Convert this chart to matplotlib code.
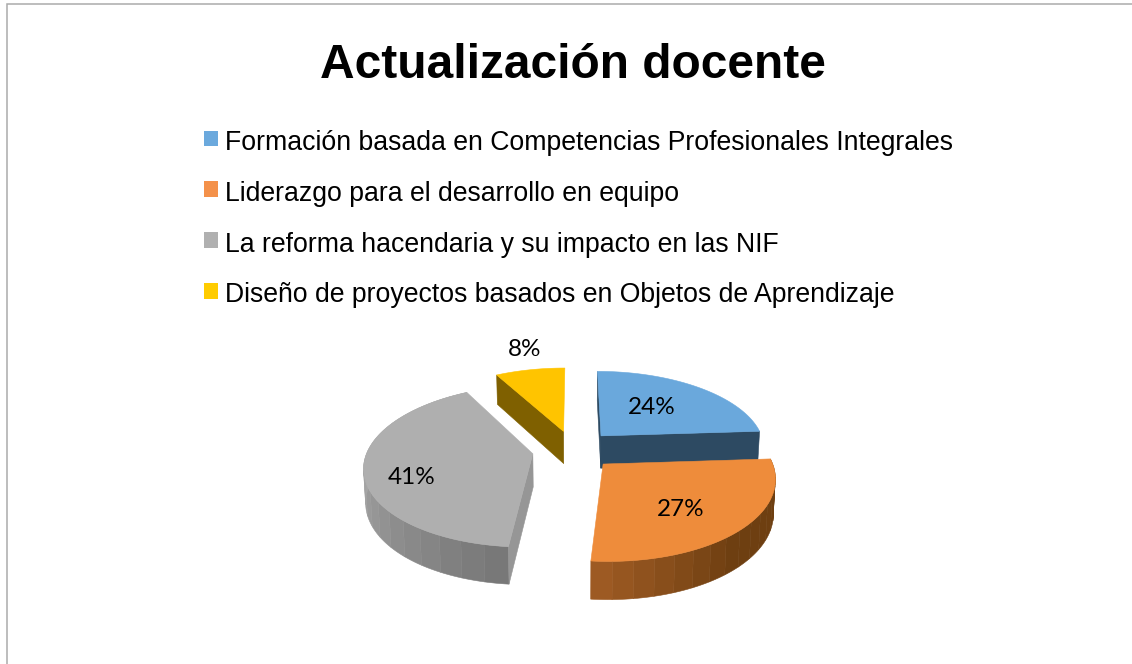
import numpy as np
import matplotlib
matplotlib.use("Agg")
import matplotlib.pyplot as plt
from matplotlib.patches import Polygon, Patch, Rectangle
from matplotlib.legend_handler import HandlerPatch
from matplotlib.colors import to_rgb

TITLE = "Actualización docente"
categories = ["Formación basada en Competencias Profesionales Integrales",
              "Liderazgo para el desarrollo en equipo",
              "La reforma hacendaria y su impacto en las NIF",
              "Diseño de proyectos basados en Objetos de Aprendizaje"]
values = [24, 27.4, 40.6, 8]

top_colors = ["#6aa8dc", "#ee8c3b", "#afafaf", "#ffc400"]
legend_colors = ["#6ba9dd", "#f4914a", "#b0b0b0", "#ffcc00"]
label_pos = [(652, 407), (681, 510), (412, 477), (525, 349)]

CX, CY, RX, RY, K, E, DEPTH = 573.5, 449.7, 165.0, 78.0, 0.15, 0.25, 33.0

fig = plt.figure(figsize=(11.32, 6.64), dpi=100, facecolor="white")
ax = fig.add_axes([0, 0, 1, 1])
ax.set_xlim(0, 1132)
ax.set_ylim(664, 0)
ax.axis("off")


def project(X, Y, bottom=False):
    X, Y = np.asarray(X, float), np.asarray(Y, float)
    d = 1 + K * Y
    x = CX + RX * X / d
    y = CY - RY * Y / d
    if bottom:
        x = CX + (x - CX) * 0.99
        y = y + DEPTH / d ** 0.75
    return np.column_stack([x, y])


def ground(angle_deg, off):
    a = np.radians(angle_deg)
    return np.sin(a) + off[0], np.cos(a) + off[1]


def poly(pts, color, z):
    ax.add_patch(Polygon(pts, closed=True, facecolor=color, edgecolor=color,
                         linewidth=0.4, zorder=z))


def mix(c1, c2, t):
    a, b = np.array(to_rgb(c1)), np.array(to_rgb(c2))
    return tuple(a + (b - a) * np.clip(t, 0, 1))


def cut_face(off, ang, color, z):
    apex = (off[0], off[1])
    rim = ground(ang, off)
    pts = np.vstack([project(*apex), project(*rim),
                     project(*rim, bottom=True), project(*apex, bottom=True)])
    poly(pts, color, z)


def rim_side(off, a0, a1, shade, z, n):
    edges = np.linspace(a0, a1, n + 1)
    for i in range(n):
        sub = np.linspace(edges[i], edges[i + 1], 6)
        X, Y = ground(sub, off)
        pts = np.vstack([project(X, Y), project(X, Y, bottom=True)[::-1]])
        poly(pts, shade(0.5 * (edges[i] + edges[i + 1])), z)


def top_face(off, a0, a1, color, z):
    ang = np.linspace(a0, a1, 120)
    X, Y = ground(ang, off)
    pts = np.vstack([project(off[0], off[1]), project(X, Y)])
    poly(pts, color, z)


def gray_shade(a):
    return mix("#767676", "#a8a8a8", (a - 186) / 84)


def orange_shade(a):
    return mix("#6e3f11", "#a05c24", (a - 140) / 45)


bounds = np.concatenate([[0], np.cumsum(values)]) / sum(values) * 360.0
offs = []
for i in range(len(values)):
    mid = np.radians(0.5 * (bounds[i] + bounds[i + 1]))
    offs.append((E * np.sin(mid), E * np.cos(mid)))

# blue
cut_face(offs[0], bounds[0], "#2d4a62", 1)
cut_face(offs[0], bounds[1], "#2d4a62", 1)
top_face(offs[0], bounds[0], bounds[1], top_colors[0], 2)
# yellow
cut_face(offs[3], bounds[3], "#7f6000", 1)
top_face(offs[3], bounds[3], bounds[4], top_colors[3], 2)
# gray
rim_side(offs[2], bounds[2], bounds[3], gray_shade, 3, 20)
cut_face(offs[2], bounds[2], "#969696", 3)
top_face(offs[2], bounds[2], bounds[3], top_colors[2], 4)
# orange
rim_side(offs[1], bounds[1], bounds[2], orange_shade, 5, 16)
top_face(offs[1], bounds[1], bounds[2], top_colors[1], 6)

for v, (x, y) in zip(values, label_pos):
    ax.text(x, y, f"{round(v)}%", ha="center", va="center", fontsize=17.5,
            family="Lato", color="black", zorder=10)

ax.text(573, 66, TITLE, ha="center", va="center", fontsize=34.5,
        family="Liberation Sans", fontweight="bold", color="black")


def raised_square(legend, orig_handle, xdescent, ydescent, width, height, fontsize):
    return Rectangle((-xdescent, -ydescent + 1.5), width, height)


FS = 19.2
handles = [Patch(facecolor=c, edgecolor="none") for c in legend_colors]
ax.legend(handles, categories, loc="upper left", bbox_to_anchor=(204, 130),
          bbox_transform=ax.transData, frameon=False, borderpad=0, borderaxespad=0,
          prop={"family": "Liberation Sans", "size": FS},
          handlelength=0.53, handleheight=0.53, handletextpad=0.27, labelspacing=0.93,
          handler_map={Patch: HandlerPatch(patch_func=raised_square)})

ax.plot([7, 7, 1132], [664, 4, 4], color="#ababab", lw=1.1, solid_joinstyle="miter", zorder=0)

fig.savefig("out.png", dpi=100, facecolor="white")
